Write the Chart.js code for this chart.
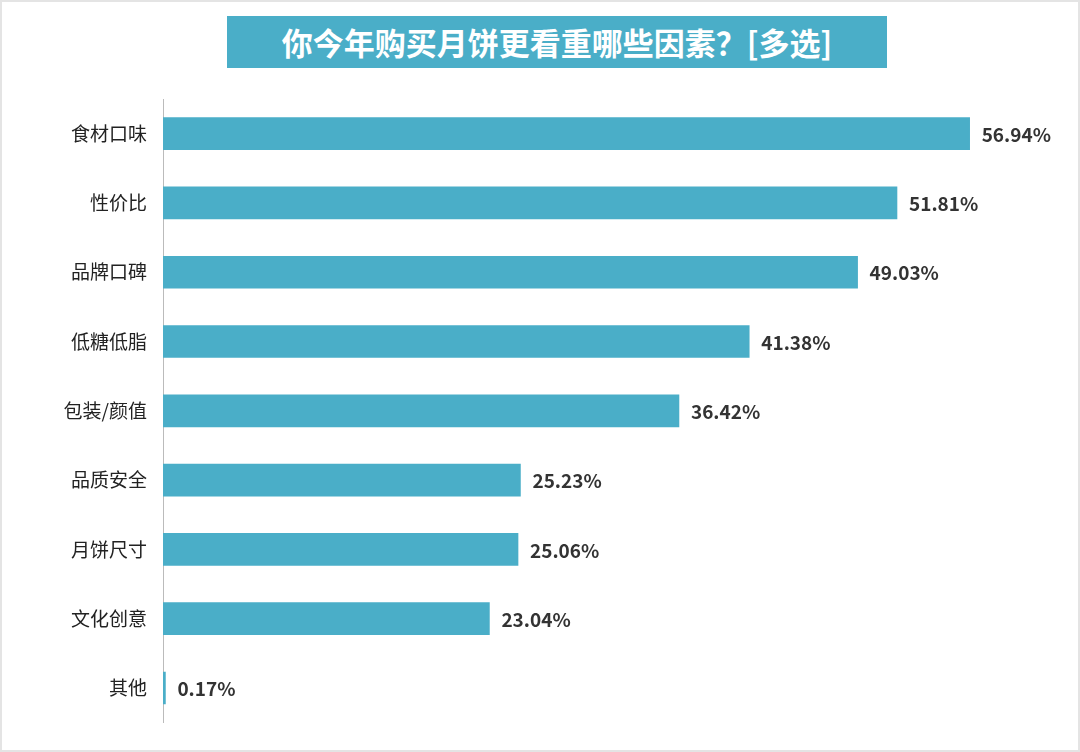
<!DOCTYPE html>
<html>
<head>
<meta charset="utf-8">
<script src="https://cdn.jsdelivr.net/npm/chart.js@4"></script>
<style>
  body { margin: 0; background: #fff; }
  #wrap { position: relative; width: 1080px; height: 752px; box-sizing: border-box; border: 2px solid #e4e4e4; }
  #title { position: absolute; left: 225px; top: 14px; width: 660px; height: 52px; background: #4aaec8;
    color: #fff; font: bold 31px "Noto Sans CJK SC", sans-serif; text-align: center; line-height: 52px; }
  #box { position: absolute; left: 0; top: 0; width: 1076px; height: 748px; }
</style>
</head>
<body>
<div id="wrap">
  <div id="title">你今年购买月饼更看重哪些因素？[多选]</div>
  <div id="box"><canvas id="myChart"></canvas></div>
</div>
<script>
var categories = ['食材口味', '性价比', '品牌口碑', '低糖低脂', '包装/颜值', '品质安全', '月饼尺寸', '文化创意', '其他'];
var values = [56.94, 51.81, 49.03, 41.38, 36.42, 25.23, 25.06, 23.04, 0.17];
var barColor = '#4aaec8';

// Prozentwerte rechts neben den Balken
var valueLabels = {
    id: 'valueLabels',
    afterDatasetsDraw: function (chart) {
        var ctx = chart.ctx;
        var meta = chart.getDatasetMeta(0);
        ctx.save();
        ctx.fillStyle = '#333';
        ctx.font = 'bold 19px "Noto Sans CJK SC", sans-serif';
        ctx.textBaseline = 'middle';
        meta.data.forEach(function (bar, i) {
            ctx.fillText(values[i].toFixed(2) + '%', bar.x + 12, bar.y + 1);
        });
        ctx.restore();
    }
};

new Chart(document.getElementById('myChart'), {
    type: 'bar',
    data: {
        labels: categories,
        datasets: [{
            data: values,
            backgroundColor: barColor,
            barThickness: 32
        }]
    },
    options: {
        indexAxis: 'y',
        responsive: true,
        maintainAspectRatio: false,
        animation: false,
        layout: { padding: { top: 97, bottom: 21, right: 65, left: 0 } },
        plugins: { legend: { display: false }, tooltip: { enabled: false } },
        scales: {
            x: {
                min: 0, max: 60,
                display: false
            },
            y: {
                afterFit: function (s) { s.width = 161; },
                grid: { display: false, drawTicks: false },
                border: { color: '#bbb', width: 1 },
                ticks: {
                    color: '#222',
                    padding: 16,
                    font: { size: 19, family: '"Noto Sans CJK SC", sans-serif' }
                }
            }
        }
    },
    plugins: [valueLabels]
});
</script>
</body>
</html>
